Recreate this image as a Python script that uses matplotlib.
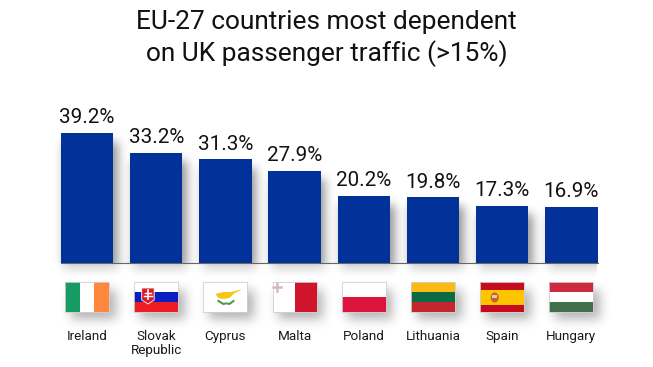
import numpy as np
import matplotlib.pyplot as plt
from matplotlib.patches import Rectangle, Polygon, Ellipse

countries = ["Ireland", "Slovak\nRepublic", "Cyprus", "Malta", "Poland", "Lithuania", "Spain", "Hungary"]
shares = [39.2, 33.2, 31.3, 27.9, 20.2, 19.8, 17.3, 16.9]
value_labels = ["39.2%", "33.2%", "31.3%", "27.9%", "20.2%", "19.8%", "17.3%", "16.9%"]

W, H = 653, 367
plt.rcParams["font.family"] = ["Roboto", "DejaVu Sans"]
fig = plt.figure(figsize=(W / 100, H / 100), dpi=100, facecolor="white")

# axes box in pixels, y measured from the top of the picture
left, right, top, bottom = 52.4, 606, 130.4, 263
ax = fig.add_axes([left / W, 1 - bottom / H, (right - left) / W, (bottom - top) / H], zorder=2)
ax.patch.set_alpha(0)
x = np.arange(len(countries))
ax.bar(x, shares, width=0.76, color="#02319a", zorder=3)
ax.set_xlim(-0.5, len(countries) - 0.5)
ax.set_ylim(0, 40)
ax.set_yticks([])
ax.set_xticks(x)
ax.set_xticklabels(countries, fontsize=9.7, color="#1a1a1a", linespacing=1.1)
ax.tick_params(axis="x", length=0, pad=48)
for s in ax.spines.values():
    s.set_visible(False)
for i in range(len(x)):
    ax.annotate(value_labels[i], (x[i], shares[i]), xytext=(0, 4), textcoords="offset points",
                ha="center", va="bottom", fontsize=14.9, color="#111111")

fig.text(0.5, 1 - 22 / H, "EU-27 countries most dependent", ha="center", va="center", fontsize=18.9, color="#111111")
fig.text(0.5, 1 - 54 / H, "on UK passenger traffic (>15%)", ha="center", va="center", fontsize=18.9, color="#111111")

# pixel overlays for shadows and flags
bg = fig.add_axes([0, 0, 1, 1], zorder=1)
bg.set_xlim(0, W)
bg.set_ylim(H, 0)
bg.axis("off")
fl = fig.add_axes([0, 0, 1, 1], zorder=3)
fl.set_xlim(0, W)
fl.set_ylim(H, 0)
fl.axis("off")
fl.patch.set_alpha(0)


def blur(m, sigma):
    r = int(3 * sigma)
    k = np.exp(-0.5 * (np.arange(-r, r + 1) / sigma) ** 2)
    k = k / k.sum()
    m = np.apply_along_axis(lambda v: np.convolve(v, k, mode="same"), 0, m)
    return np.apply_along_axis(lambda v: np.convolve(v, k, mode="same"), 1, m)


px = [ax.transData.transform((i, 0))[0] for i in x]
py = [H - ax.transData.transform((0, v))[1] for v in shares]
bw = 0.76 * (right - left) / len(x)
edge = int(px[-1] + bw / 2)

FY, FH = 282, 30
bar_mask = np.zeros((H, W))
flag_mask = np.zeros((H, W))
for i in range(len(x)):
    bar_mask[int(py[i]) + 9:bottom + 6, int(px[i] - bw / 2) + 4:int(px[i] + bw / 2) + 5] = 1
    flag_mask[FY + 8:FY + FH + 7, int(px[i]) - 16:int(px[i]) + 29] = 1
bar_shadow = blur(bar_mask, 5.0) * 0.42
bar_shadow[bottom:] *= 0.45
bar_shadow[:, edge:] = 0
shadow = np.maximum(bar_shadow, blur(flag_mask, 5.5) * 0.3)
rgba = np.zeros((H, W, 4))
rgba[..., 3] = shadow
bg.imshow(rgba, extent=(0, W, H, 0), aspect="auto", interpolation="bilinear", zorder=1)
bg.set_xlim(0, W)
bg.set_ylim(H, 0)

bg.plot([px[0] - bw / 2, px[-1] + bw / 2], [bottom + 0.3, bottom + 0.3], color="#666666", lw=0.8, zorder=2)


def band(cx, y0, y1, c, x0=0.0, x1=1.0):
    fl.add_patch(Rectangle((cx - 22 + 44 * x0, y0), 44 * (x1 - x0), y1 - y0, fc=c, ec="none", zorder=2))


for i, c in enumerate(px):
    band(c, FY, FY + FH, "white")
    name = countries[i]
    if name == "Ireland":
        band(c, FY, FY + FH, "#169b62", 0, 1 / 3)
        band(c, FY, FY + FH, "#ff883e", 2 / 3, 1)
    elif name.startswith("Slovak"):
        band(c, FY + 10, FY + 20, "#0b1fc0")
        band(c, FY + 20, FY + FH, "#ee1c25")
        fl.add_patch(Polygon([(c - 14.5, FY + 6), (c - 2, FY + 6), (c - 2, FY + 18), (c - 8.2, FY + 22), (c - 14.5, FY + 18)],
                             fc="#e01b24", ec="white", lw=0.6, zorder=3))
        fl.plot([c - 8.2, c - 8.2], [FY + 8, FY + 17], color="white", lw=1.2, zorder=4)
        fl.plot([c - 11, c - 5.5], [FY + 10.5, FY + 10.5], color="white", lw=1, zorder=4)
        fl.plot([c - 12, c - 4.5], [FY + 13.5, FY + 13.5], color="white", lw=1, zorder=4)
    elif name == "Cyprus":
        fl.add_patch(Polygon([(c - 10, FY + 12), (c - 2, FY + 10), (c + 6, FY + 10), (c + 17, FY + 7),
                              (c + 8, FY + 12), (c + 4, FY + 16), (c - 2, FY + 17), (c - 7, FY + 16)],
                             fc="#f5c518", ec="none", zorder=3))
        fl.plot([c - 7, c - 2, c + 0], [FY + 19, FY + 22, FY + 21.5], color="#4e9b47", lw=1.5, zorder=3)
        fl.plot([c + 8, c + 4, c + 2], [FY + 19, FY + 22, FY + 21.5], color="#4e9b47", lw=1.5, zorder=3)
    elif name == "Malta":
        band(c, FY, FY + FH, "#cf142b", 0.5, 1)
        fl.plot([c - 17.5, c - 17.5], [FY + 1, FY + 9], color="#d8b8bc", lw=1.8, zorder=3)
        fl.plot([c - 21.5, c - 13.5], [FY + 5, FY + 5], color="#d8b8bc", lw=1.8, zorder=3)
    elif name == "Poland":
        band(c, FY + FH / 2, FY + FH, "#dc143c")
    elif name == "Lithuania":
        band(c, FY, FY + 10, "#fdb913")
        band(c, FY + 10, FY + 20, "#0b6a44")
        band(c, FY + 20, FY + FH, "#c1272d")
    elif name == "Spain":
        band(c, FY, FY + FH, "#c60b1e")
        band(c, FY + 7.5, FY + 22.5, "#ffc400")
        fl.add_patch(Ellipse((c - 7.5, FY + 15.5), 8, 10, fc="#c2603a", ec="none", zorder=3))
        fl.add_patch(Rectangle((c - 10, FY + 13), 5, 3, fc="#e8c9a0", ec="none", zorder=4))
    elif name == "Hungary":
        band(c, FY, FY + 10, "#cd2a3e")
        band(c, FY + 20, FY + FH, "#436f4d")
    fl.add_patch(Rectangle((c - 22, FY), 44, FH, fc="none", ec="#d0d0d0", lw=0.6, zorder=5))

plt.savefig("out.png", dpi=100)
plt.close()
